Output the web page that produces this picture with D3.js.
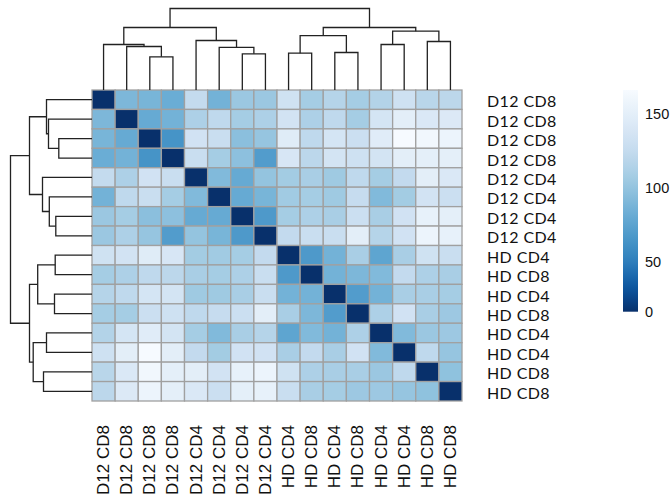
<!DOCTYPE html>
<html>
  <head>
    <meta charset="utf-8">
    <title>Clustered distance heatmap</title>
    <script src="https://d3js.org/d3.v7.min.js"></script>
    <style>
      body { margin: 0; background: #fff; }
    </style>
  </head>
  <body>
    <div id="chart"></div>
    <script>
      // Sample labels, in the clustered display order (rows and columns are the same)
      var sampleLabels = [
        "D12 CD8", "D12 CD8", "D12 CD8", "D12 CD8",
        "D12 CD4", "D12 CD4", "D12 CD4", "D12 CD4",
        "HD CD4", "HD CD8", "HD CD4", "HD CD8",
        "HD CD4", "HD CD4", "HD CD8", "HD CD8"
      ];

      // Pairwise distances (symmetric, 0 on the diagonal)
      var distMatrix = [
        [0, 90, 88, 82, 125, 86, 103, 103, 133, 108, 116, 108, 115, 132, 118, 120],
        [90, 0, 80, 86, 112, 122, 108, 112, 135, 112, 122, 108, 137, 149, 142, 143],
        [88, 80, 0, 64, 134, 128, 96, 101, 146, 122, 137, 130, 147, 165, 161, 157],
        [82, 86, 64, 0, 128, 108, 97, 70, 139, 120, 136, 132, 136, 149, 150, 150],
        [125, 112, 134, 128, 0, 92, 80, 100, 107, 110, 105, 122, 108, 124, 149, 142],
        [86, 122, 128, 108, 92, 0, 80, 88, 106, 108, 105, 126, 92, 107, 135, 130],
        [103, 108, 96, 97, 80, 80, 0, 68, 108, 112, 110, 130, 110, 134, 153, 150],
        [103, 112, 101, 70, 100, 88, 68, 0, 124, 128, 128, 149, 116, 134, 157, 153],
        [133, 135, 146, 139, 107, 106, 108, 124, 0, 68, 86, 110, 76, 110, 133, 128],
        [108, 112, 122, 120, 110, 108, 112, 128, 68, 0, 86, 90, 92, 124, 112, 110],
        [116, 122, 137, 136, 105, 105, 110, 128, 86, 86, 0, 70, 86, 110, 110, 108],
        [108, 108, 130, 132, 122, 126, 130, 149, 110, 90, 70, 0, 112, 134, 110, 104],
        [115, 137, 147, 136, 108, 92, 110, 116, 76, 92, 86, 112, 0, 92, 103, 104],
        [132, 149, 165, 149, 124, 107, 134, 134, 110, 124, 110, 134, 92, 0, 122, 101],
        [118, 142, 161, 150, 149, 135, 153, 157, 133, 112, 110, 110, 103, 122, 0, 98],
        [120, 143, 157, 150, 142, 130, 150, 153, 128, 110, 108, 104, 104, 101, 98, 0]
      ];

      // hclust style merges: negative = leaf -(index+1), positive = earlier merge (1-based)
      var treeMerges = [
        [-3, -4], [-2, 1], [-1, 2], [-7, -8], [-6, 4], [-5, 5], [3, 6],
        [-9, -10], [-11, -12], [8, 9], [-13, -14], [-15, -16], [11, 12], [10, 13],
        [7, 14]
      ];
      var treeHeights = [33.2, 43.5, 45.5, 36.2, 42.7, 49.5, 62.5,
                         36.8, 37.5, 54.3, 45.5, 48.5, 58.8, 62.5, 81.5];

      var legendTicks = [0, 50, 100, 150];

      var width = 670, height = 503;
      var hm = { left: 92, right: 462, top: 90, bottom: 401 };

      var svg = d3.select("#chart").append("svg")
          .attr("width", width)
          .attr("height", height);

      var n = sampleLabels.length;
      var idx = d3.range(n);

      var x = d3.scaleBand().domain(idx).range([hm.left, hm.right]);
      var y = d3.scaleBand().domain(idx).range([hm.top, hm.bottom]);

      var color = d3.scaleSequential(function(t) { return d3.interpolateBlues(1 - t); })
          .domain([0, 166]);

      // heatmap cells
      var cells = [];
      distMatrix.forEach(function(row, i) {
        row.forEach(function(v, j) { cells.push({ r: i, c: j, v: v }); });
      });

      svg.append("g").selectAll("rect")
        .data(cells)
        .enter().append("rect")
          .attr("x", function(d) { return x(d.c); })
          .attr("y", function(d) { return y(d.r); })
          .attr("width", x.bandwidth())
          .attr("height", y.bandwidth())
          .attr("fill", function(d) { return color(d.v); })
          .attr("stroke", "#a0a0a0")
          .attr("stroke-width", 1.3);

      // dendrograms
      var hMax = d3.max(treeHeights);
      var colH = d3.scaleLinear().domain([0, hMax]).range([hm.top, 8.5]);
      var rowH = d3.scaleLinear().domain([0, hMax]).range([hm.left, 10.5]);

      function layoutTree(leafPos) {
        var nodes = [];
        function get(k) {
          return k < 0 ? { p: leafPos(-k - 1), h: 0 } : nodes[k - 1];
        }
        var segs = [];
        treeMerges.forEach(function(m, i) {
          var a = get(m[0]), b = get(m[1]), h = treeHeights[i];
          segs.push({ a: a, b: b, h: h });
          nodes.push({ p: (a.p + b.p) / 2, h: h });
        });
        return segs;
      }

      var colSegs = layoutTree(function(i) { return x(i) + x.bandwidth() / 2; });
      svg.append("g").selectAll("path")
        .data(colSegs)
        .enter().append("path")
          .attr("fill", "none")
          .attr("stroke", "#222")
          .attr("stroke-width", 1.3)
          .attr("d", function(s) {
            return "M" + s.a.p + "," + colH(s.a.h) + "V" + colH(s.h) +
                   "H" + s.b.p + "V" + colH(s.b.h);
          });

      var rowSegs = layoutTree(function(i) { return y(i) + y.bandwidth() / 2; });
      svg.append("g").selectAll("path")
        .data(rowSegs)
        .enter().append("path")
          .attr("fill", "none")
          .attr("stroke", "#222")
          .attr("stroke-width", 1.3)
          .attr("d", function(s) {
            return "M" + rowH(s.a.h) + "," + s.a.p + "H" + rowH(s.h) +
                   "V" + s.b.p + "H" + rowH(s.b.h);
          });

      // row labels
      svg.append("g").selectAll("text")
        .data(sampleLabels)
        .enter().append("text")
          .attr("x", 487)
          .attr("y", function(d, i) { return y(i) + y.bandwidth() / 2 + 1; })
          .attr("dominant-baseline", "central")
          .style("font-family", "Lato, sans-serif")
          .style("font-size", "16px")
          .style("letter-spacing", "0.4px")
          .style("fill", "#111")
          .text(function(d) { return d; });

      // column labels
      svg.append("g").selectAll("text")
        .data(sampleLabels)
        .enter().append("text")
          .attr("transform", function(d, i) {
            return "translate(" + (x(i) + x.bandwidth() / 2) + ",425) rotate(-90)";
          })
          .attr("text-anchor", "end")
          .attr("dominant-baseline", "central")
          .style("font-family", "'Liberation Sans', Arial, sans-serif")
          .style("font-size", "17px")
          .style("fill", "#111")
          .text(function(d) { return d; });

      // colour legend
      var lg = { x: 623, w: 15, top: 90, bottom: 311.7 };
      var legendY = d3.scaleLinear().domain([0, 50, 166]).range([lg.bottom, 261.7, lg.top]);

      var grad = svg.append("defs").append("linearGradient")
          .attr("id", "lgrad")
          .attr("x1", 0).attr("y1", 1).attr("x2", 0).attr("y2", 0);
      d3.range(0, 167, 6).concat([166]).forEach(function(v) {
        grad.append("stop")
          .attr("offset", (lg.bottom - legendY(v)) / (lg.bottom - lg.top))
          .attr("stop-color", color(v));
      });

      svg.append("rect")
        .attr("x", lg.x)
        .attr("y", lg.top)
        .attr("width", lg.w)
        .attr("height", lg.bottom - lg.top)
        .attr("fill", "url(#lgrad)");

      svg.append("g").selectAll("text")
        .data(legendTicks)
        .enter().append("text")
          .attr("x", 645)
          .attr("y", function(d) { return legendY(d); })
          .attr("dominant-baseline", "central")
          .style("font-family", "'Liberation Sans', Arial, sans-serif")
          .style("font-size", "14.5px")
          .style("fill", "#111")
          .text(function(d) { return d; });
    </script>
  </body>
</html>
